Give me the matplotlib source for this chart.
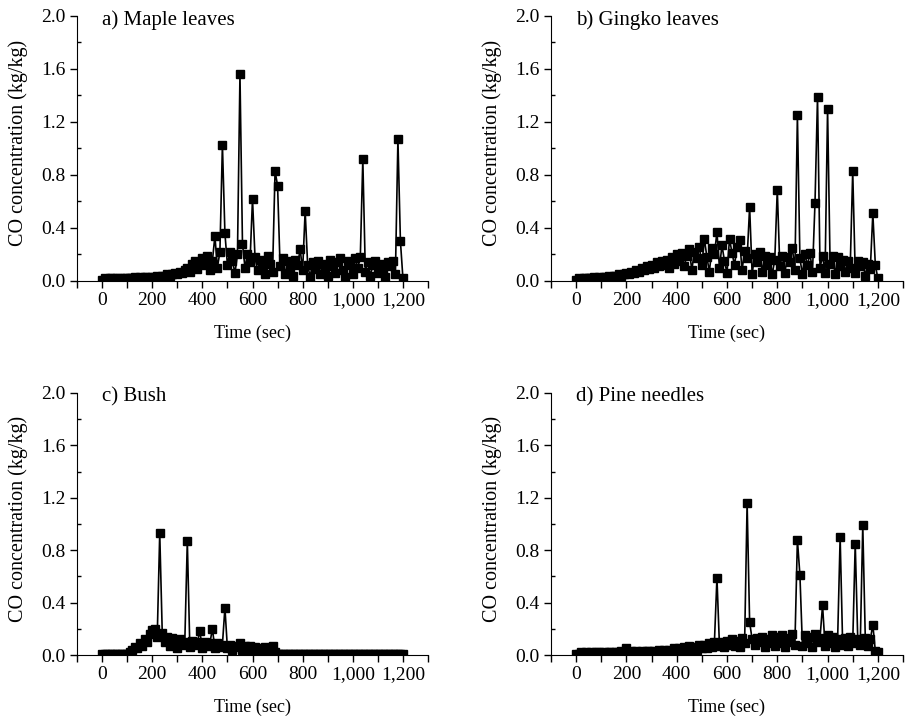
import numpy as np
import matplotlib
matplotlib.use("Agg")
import matplotlib.pyplot as plt
from matplotlib.ticker import MultipleLocator, FuncFormatter

plt.rcParams['font.family'] = ['Liberation Serif', 'DejaVu Serif']

time = np.arange(0, 1210, 10)

maple = [
    0.01, 0.02, 0.01, 0.02, 0.02, 0.01, 0.02, 0.02, 0.01, 0.02, 0.02,
    0.02, 0.02, 0.03, 0.02, 0.03, 0.02, 0.03, 0.03, 0.02, 0.03,
    0.03, 0.04, 0.03, 0.04, 0.04, 0.05, 0.04, 0.05, 0.06, 0.05,
    0.07, 0.06, 0.08, 0.10, 0.07, 0.13, 0.15, 0.09, 0.14, 0.17,
    0.12, 0.19, 0.08, 0.15, 0.34, 0.10, 0.22, 1.03, 0.36, 0.12,
    0.22, 0.15, 0.06, 0.20, 1.56, 0.28, 0.10, 0.20, 0.14, 0.62,
    0.18, 0.08, 0.16, 0.12, 0.05, 0.19, 0.13, 0.07, 0.83, 0.72,
    0.11, 0.17, 0.05, 0.15, 0.10, 0.04, 0.16, 0.12, 0.24, 0.08,
    0.53, 0.12, 0.03, 0.14, 0.09, 0.15, 0.05, 0.13, 0.10, 0.04,
    0.16, 0.11, 0.06, 0.14, 0.17, 0.08, 0.03, 0.15, 0.12, 0.05,
    0.17, 0.10, 0.18, 0.92, 0.07, 0.14, 0.04, 0.12, 0.15, 0.06,
    0.13, 0.09, 0.03, 0.14, 0.11, 0.15, 0.05, 1.07, 0.30, 0.02,
]

gingko = [
    0.01, 0.02, 0.01, 0.02, 0.02, 0.02, 0.02, 0.03, 0.02, 0.03, 0.02,
    0.03, 0.03, 0.04, 0.03, 0.04, 0.04, 0.05, 0.04, 0.05, 0.06,
    0.05, 0.07, 0.06, 0.08, 0.07, 0.10, 0.08, 0.11, 0.09, 0.12,
    0.10, 0.14, 0.11, 0.15, 0.12, 0.16, 0.10, 0.18, 0.13, 0.20,
    0.15, 0.21, 0.11, 0.19, 0.24, 0.08, 0.22, 0.17, 0.26, 0.12,
    0.32, 0.18, 0.07, 0.25, 0.20, 0.37, 0.10, 0.27, 0.15, 0.06,
    0.32, 0.21, 0.12, 0.26, 0.31, 0.08, 0.23, 0.17, 0.56, 0.05,
    0.20, 0.14, 0.22, 0.07, 0.19, 0.12, 0.18, 0.05, 0.16, 0.69,
    0.11, 0.19, 0.06, 0.18, 0.14, 0.25, 0.08, 1.25, 0.17, 0.05,
    0.20, 0.12, 0.21, 0.07, 0.59, 1.39, 0.10, 0.19, 0.06, 1.30,
    0.13, 0.19, 0.05, 0.18, 0.11, 0.16, 0.07, 0.15, 0.10, 0.83,
    0.06, 0.15, 0.11, 0.14, 0.04, 0.13, 0.09, 0.51, 0.12, 0.02,
]

bush = [
    0.01, 0.01, 0.01, 0.01, 0.01, 0.01, 0.01, 0.01, 0.01, 0.01, 0.01,
    0.02, 0.04, 0.06, 0.05, 0.09, 0.07, 0.12, 0.10, 0.16, 0.19,
    0.20, 0.14, 0.93, 0.17, 0.10, 0.14, 0.07, 0.13, 0.11, 0.05,
    0.12, 0.08, 0.10, 0.87, 0.06, 0.11, 0.08, 0.10, 0.18, 0.05,
    0.10, 0.07, 0.09, 0.20, 0.05, 0.09, 0.06, 0.08, 0.36, 0.05,
    0.08, 0.04, 0.07, 0.06, 0.09, 0.04, 0.07, 0.03, 0.07, 0.04,
    0.06, 0.03, 0.05, 0.04, 0.06, 0.03, 0.05, 0.07, 0.02, 0.01,
    0.01, 0.01, 0.01, 0.01, 0.01, 0.01, 0.01, 0.01, 0.01, 0.01,
    0.01, 0.01, 0.01, 0.01, 0.01, 0.01, 0.01, 0.01, 0.01, 0.01,
    0.01, 0.01, 0.01, 0.01, 0.01, 0.01, 0.01, 0.01, 0.01, 0.01,
    0.01, 0.01, 0.01, 0.01, 0.01, 0.01, 0.01, 0.01, 0.01, 0.01,
    0.01, 0.01, 0.01, 0.01, 0.01, 0.01, 0.01, 0.01, 0.01, 0.01,
]

pine = [
    0.01, 0.01, 0.02, 0.01, 0.02, 0.01, 0.02, 0.01, 0.02, 0.02, 0.01,
    0.02, 0.01, 0.02, 0.02, 0.01, 0.02, 0.02, 0.03, 0.02, 0.05,
    0.02, 0.03, 0.02, 0.03, 0.02, 0.03, 0.02, 0.03, 0.03, 0.02,
    0.03, 0.02, 0.04, 0.03, 0.04, 0.02, 0.04, 0.03, 0.05, 0.03,
    0.05, 0.03, 0.06, 0.04, 0.07, 0.03, 0.06, 0.04, 0.08, 0.05,
    0.08, 0.05, 0.09, 0.06, 0.10, 0.59, 0.07, 0.10, 0.06, 0.11,
    0.08, 0.12, 0.07, 0.11, 0.06, 0.13, 0.09, 1.16, 0.25, 0.12,
    0.08, 0.13, 0.10, 0.14, 0.06, 0.12, 0.09, 0.15, 0.07, 0.14,
    0.09, 0.15, 0.06, 0.13, 0.10, 0.16, 0.08, 0.88, 0.61, 0.07,
    0.15, 0.09, 0.14, 0.06, 0.16, 0.10, 0.13, 0.38, 0.07, 0.15,
    0.09, 0.14, 0.06, 0.12, 0.90, 0.08, 0.13, 0.07, 0.14, 0.09,
    0.85, 0.12, 0.08, 0.99, 0.13, 0.07, 0.12, 0.23, 0.03, 0.02,
]

series = [maple, gingko, bush, pine]
titles = ["a) Maple leaves", "b) Gingko leaves", "c) Bush", "d) Pine needles"]

W, H = 907, 719
fig = plt.figure(figsize=(W / 100, H / 100), dpi=100)

# axes rectangles in pixels: left, top(y=2.0), right, bottom(y=0)
rects = [
    (77, 16, 428, 281),
    (551, 16, 903, 281),
    (77, 393, 428, 655),
    (551, 393, 903, 655),
]

def thousands(x, pos):
    return f"{int(x):,}"

for (l, t, r, b), y, title in zip(rects, series, titles):
    ax = fig.add_axes([l / W, 1 - b / H, (r - l) / W, (b - t) / H])
    ax.plot(time, y, color='black', lw=1.2, marker='s', ms=5.5,
            markerfacecolor='black', markeredgecolor='black')
    ax.set_xlim(-100, 1300)
    ax.set_ylim(0, 2.0)
    ax.spines['top'].set_visible(False)
    ax.spines['right'].set_visible(False)
    ax.xaxis.set_minor_locator(MultipleLocator(100))
    ax.yaxis.set_major_locator(MultipleLocator(0.4))
    ax.yaxis.set_minor_locator(MultipleLocator(0.2))
    ax.set_xticks([0, 200, 400, 600, 800, 1000, 1200])
    ax.xaxis.set_major_formatter(FuncFormatter(thousands))
    ax.yaxis.set_major_formatter(FuncFormatter(lambda v, p: f"{v:.1f}"))
    ax.tick_params(axis='x', which='both', direction='out', length=5, width=1)
    ax.tick_params(axis='y', which='major', direction='out', length=5, width=1)
    ax.tick_params(axis='y', which='minor', direction='in', length=3, width=1)
    ax.tick_params(labelsize=14, pad=3)
    ax.set_xlabel("Time (sec)", fontsize=13, labelpad=11)
    ax.set_ylabel("CO concentration (kg/kg)", fontsize=14.5)
    ax.yaxis.set_label_coords(-0.14, 0.52)
    ax.text(0.07, 0.985, title, transform=ax.transAxes, fontsize=15,
            ha='left', va='center')

fig.savefig("out.png", dpi=100)
